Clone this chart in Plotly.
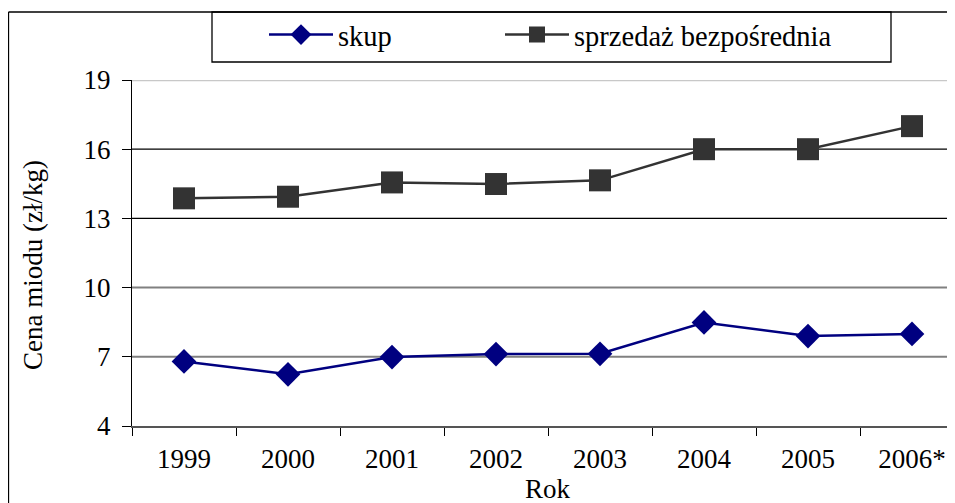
import plotly.graph_objects as go

years = ["1999", "2000", "2001", "2002", "2003", "2004", "2005", "2006*"]
skup = [6.80, 6.24, 6.99, 7.12, 7.13, 8.49, 7.90, 7.99]
sprzedaz = [13.87, 13.94, 14.56, 14.49, 14.65, 16.0, 16.0, 17.0]
y_ticks = [4, 7, 10, 13, 16, 19]
grid_colors = ["#808080", "#808080", "#808080", "#000000", "#000000", "#c8c8c8"]
grid_widths = [2, 2, 2, 1.3, 1.3, 2.5]

# page body adds an 8px offset; figure coordinates below are page - 8
W, H = 947, 495
L, R, T, B = 124, 0, 72, 77
FONT = "Liberation Serif, Times New Roman, serif"
FS = 27
FS_LEG = 28.5

pw = W - L - R
ph = H - T - B


def px(xf):
    return (xf - L) / pw


def py(yf):
    return (H - B - yf) / ph


fig = go.Figure()
fig.add_trace(go.Scatter(
    x=years, y=skup, name="skup", mode="lines+markers",
    line=dict(color="#000080", width=2.5),
    marker=dict(symbol="diamond", size=19, color="#000080"),
    legend="legend",
))
fig.add_trace(go.Scatter(
    x=years, y=sprzedaz, name="sprzedaż bezpośrednia", mode="lines+markers",
    line=dict(color="#333333", width=2.5),
    marker=dict(symbol="square", size=22, color="#333333"),
    legend="legend2",
))

shapes = []
for v, c, w in zip(y_ticks[1:], grid_colors[1:], grid_widths[1:]):
    shapes.append(dict(type="line", xref="paper", yref="y", x0=0, x1=1, y0=v, y1=v,
                       line=dict(color=c, width=w), layer="below"))
# outer frame (left and top visible)
shapes.append(dict(type="line", xref="paper", yref="paper",
                   x0=px(0.5), x1=px(0.5), y0=py(4), y1=py(H + 5),
                   line=dict(color="#000000", width=1.3)))
shapes.append(dict(type="line", xref="paper", yref="paper",
                   x0=px(0.5), x1=px(W + 5), y0=py(4), y1=py(4),
                   line=dict(color="#000000", width=1.3)))
# legend box
shapes.append(dict(type="rect", xref="paper", yref="paper",
                   x0=px(204), x1=px(883), y0=py(54), y1=py(4),
                   line=dict(color="#000000", width=1.3), fillcolor="rgba(0,0,0,0)"))

leg_common = dict(orientation="h", xanchor="left", yanchor="middle",
                  bgcolor="rgba(0,0,0,0)", borderwidth=0,
                  font=dict(family=FONT, size=FS_LEG), itemwidth=64)

fig.update_layout(
    width=W, height=H,
    margin=dict(l=L, r=R, t=T, b=B),
    paper_bgcolor="white", plot_bgcolor="white",
    font=dict(family=FONT, size=FS, color="#000000"),
    showlegend=True,
    legend=dict(x=px(256), y=py(27), **leg_common),
    legend2=dict(x=px(492), y=py(27), **leg_common),
    shapes=shapes,
    xaxis=dict(
        type="category", range=[-0.5, -0.5 + (W - L) / 104.0],
        tickson="boundaries", ticks="outside", ticklen=8, tickcolor="#000000",
        showline=True, linecolor="#555555", linewidth=2,
        showgrid=False, zeroline=False, ticklabelstandoff=8,
        tickfont=dict(family=FONT, size=FS),
    ),
    yaxis=dict(
        range=[4, 19], tickvals=y_ticks, ticks="outside", ticklen=9,
        tickcolor="#000000", showline=True, linecolor="#000000", linewidth=1.3,
        showgrid=False, zeroline=False, ticklabelstandoff=6,
        tickfont=dict(family=FONT, size=FS),
    ),
    annotations=[
        dict(text="Cena miodu (zł/kg)", textangle=-90, xref="paper", yref="paper",
             x=px(25), y=py(257), xanchor="center", yanchor="middle",
             showarrow=False, font=dict(family=FONT, size=FS)),
        dict(text="Rok", xref="x", yref="paper", x=3.5,
             y=py(481), xanchor="center", yanchor="middle",
             showarrow=False, font=dict(family=FONT, size=FS)),
    ],
)

fig.write_html("out.html")
